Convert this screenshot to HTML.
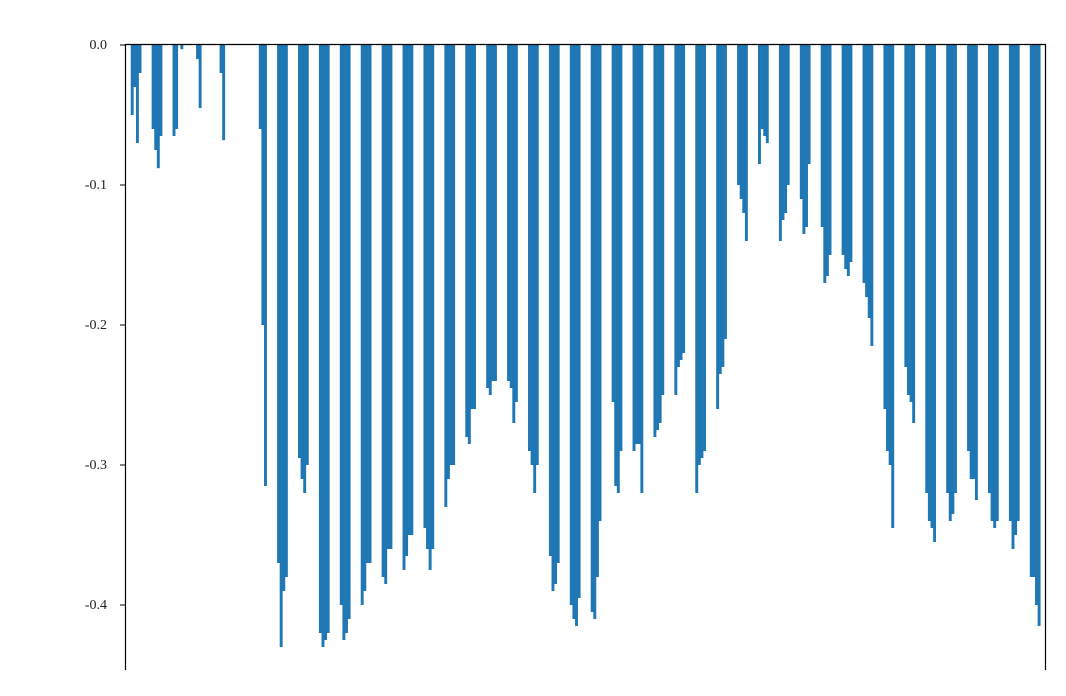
<!DOCTYPE html>
<html><head><meta charset="utf-8"><style>
html,body{margin:0;padding:0;background:#fff;}
svg{display:block;}
text{font-family:"Liberation Serif",serif;font-size:14px;fill:#222;}
</style></head><body>
<svg id="chart" width="1066" height="696" viewBox="0 0 1066 696" xmlns="http://www.w3.org/2000/svg">
<g id="bars"></g>
<g id="yaxis"></g>
<line x1="125" y1="44.5" x2="1046" y2="44.5" stroke="#000" stroke-width="1.2"/>
<line x1="125.5" y1="44" x2="125.5" y2="670" stroke="#000" stroke-width="1.2"/>
<line x1="1045.5" y1="44" x2="1045.5" y2="670" stroke="#000" stroke-width="1.2"/>
</svg>
<script>
// Data
const earlySlots = [2,3,4,5,10,11,12,13,18,19,21,27,28,36,37,51,52,53];
const earlyValues = [-0.05,-0.03,-0.07,-0.02,-0.06,-0.075,-0.088,-0.065,-0.065,-0.06,-0.003,-0.01,-0.045,-0.02,-0.068,-0.06,-0.2,-0.315];
const stripeDepths = [
 [-0.37,-0.43,-0.39,-0.38],[-0.295,-0.31,-0.32,-0.30],[-0.42,-0.43,-0.425,-0.42],[-0.40,-0.425,-0.42,-0.41],
 [-0.40,-0.39,-0.37,-0.37],[-0.38,-0.385,-0.36,-0.36],[-0.375,-0.365,-0.35,-0.35],[-0.345,-0.36,-0.375,-0.36],
 [-0.33,-0.31,-0.30,-0.30],[-0.28,-0.285,-0.26,-0.26],[-0.245,-0.25,-0.24,-0.24],[-0.24,-0.245,-0.27,-0.255],
 [-0.29,-0.30,-0.32,-0.30],[-0.365,-0.39,-0.385,-0.37],[-0.40,-0.41,-0.415,-0.395],[-0.405,-0.41,-0.38,-0.34],
 [-0.255,-0.315,-0.32,-0.29],[-0.29,-0.285,-0.285,-0.32],[-0.28,-0.275,-0.27,-0.25],[-0.25,-0.23,-0.225,-0.22],
 [-0.32,-0.30,-0.295,-0.29],[-0.26,-0.235,-0.23,-0.21],[-0.10,-0.11,-0.12,-0.14],[-0.085,-0.06,-0.065,-0.07],
 [-0.14,-0.125,-0.12,-0.10],[-0.11,-0.135,-0.13,-0.085],[-0.13,-0.17,-0.165,-0.15],[-0.15,-0.16,-0.165,-0.155],
 [-0.17,-0.18,-0.195,-0.215],[-0.26,-0.29,-0.30,-0.345],[-0.23,-0.25,-0.255,-0.27],[-0.32,-0.34,-0.345,-0.355],
 [-0.32,-0.34,-0.335,-0.32],[-0.29,-0.31,-0.31,-0.325],[-0.32,-0.34,-0.345,-0.34],[-0.34,-0.36,-0.35,-0.34],
 [-0.38,-0.38,-0.40,-0.415]
];
const stripeStartSlot = 58, stripePeriod = 8, totalSlots = 352;
const yTicks = [0,-0.1,-0.2,-0.3,-0.4];
const yTickLabels = ["0.0","-0.1","-0.2","-0.3","-0.4"];

const x0=125.5, x1=1045.5, bw=(x1-x0)/totalSlots;
const xs = s => x0 + s*bw;
const ys = v => 45 + (-v)*1400;
const NS="http://www.w3.org/2000/svg";
const gb=document.getElementById('bars');
function bar(slot,v,name){
  const r=document.createElementNS(NS,'rect');
  r.setAttribute('x',xs(slot));r.setAttribute('y',ys(0));
  r.setAttribute('width',bw+0.3);r.setAttribute('height',Math.min(ys(v),668)-ys(0));
  r.setAttribute('fill','#1f77b4');
  
  
  gb.appendChild(r);
}
earlySlots.forEach((s,i)=>bar(s,earlyValues[i],'bar-early-'+i));
stripeDepths.forEach((st,k)=>st.forEach((v,j)=>bar(stripeStartSlot+k*stripePeriod+j,v,'bar-'+k+'-'+j)));
const ga=document.getElementById('yaxis');
yTicks.forEach((t,i)=>{
  const l=document.createElementNS(NS,'line');
  l.setAttribute('x1',120);l.setAttribute('x2',125);l.setAttribute('y1',ys(t));l.setAttribute('y2',ys(t));
  l.setAttribute('stroke','#000');
  
  
  ga.appendChild(l);
  const tx=document.createElementNS(NS,'text');
  tx.setAttribute('x',107);tx.setAttribute('y',ys(t)+4);tx.setAttribute('text-anchor','end');
  tx.textContent=yTickLabels[i];
  
  
  ga.appendChild(tx);
});
</script>
</body></html>
